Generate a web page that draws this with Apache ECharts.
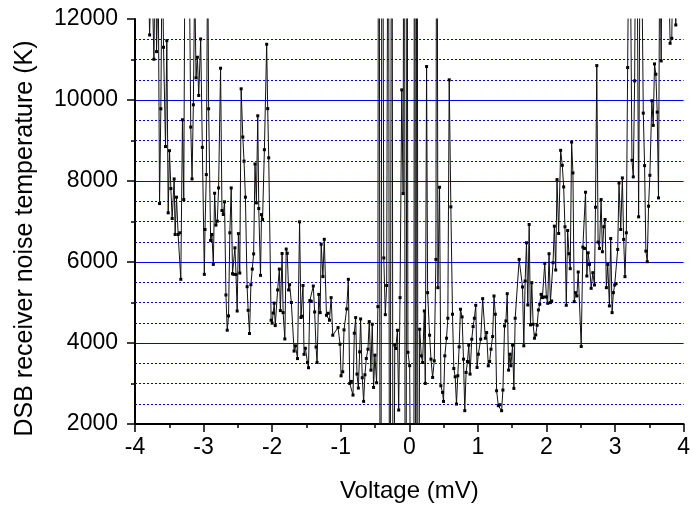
<!DOCTYPE html>
<html>
<head>
<meta charset="utf-8">
<script src="https://cdn.jsdelivr.net/npm/echarts@6/dist/echarts.min.js"></script>
<style>
  html, body { margin: 0; padding: 0; background: #fff; }
  #chart { width: 693px; height: 508px; }
</style>
</head>
<body>
<div id="chart"></div>
<script>
// voltage (mV)
var voltage = [
  -3.810, -3.787, -3.758, -3.724, -3.700, -3.686, -3.661, -3.642, -3.623, -3.603,
  -3.584, -3.555, -3.536, -3.516, -3.497, -3.477, -3.458, -3.429, -3.415, -3.395,
  -3.371, -3.347, -3.332, -3.308, -3.289, -3.269, -3.236, -3.211, -3.187, -3.168,
  -3.149, -3.129, -3.110, -3.090, -3.071, -3.042, -3.018, -2.989, -2.979, -2.960,
  -2.940, -2.926, -2.897, -2.878, -2.858, -2.839, -2.820, -2.800, -2.781, -2.752,
  -2.732, -2.713, -2.694, -2.674, -2.655, -2.636, -2.617, -2.597, -2.578, -2.558,
  -2.543, -2.527, -2.510, -2.492, -2.472, -2.452, -2.428, -2.410, -2.390, -2.365,
  -2.350, -2.330, -2.310, -2.290, -2.270, -2.250, -2.230, -2.210, -2.195, -2.170,
  -2.155, -2.140, -2.113, -2.080, -2.065, -2.050, -2.015, -2.000, -1.985, -1.970,
  -1.955, -1.920, -1.895, -1.880, -1.855, -1.840, -1.815, -1.795, -1.780, -1.760,
  -1.745, -1.720, -1.680, -1.660, -1.630, -1.600, -1.580, -1.565, -1.550, -1.535,
  -1.515, -1.485, -1.470, -1.450, -1.430, -1.400, -1.380, -1.360, -1.345, -1.320,
  -1.300, -1.285, -1.260, -1.240, -1.208, -1.184, -1.164, -1.140, -1.116, -1.039,
  -1.010, -0.995, -0.971, -0.952, -0.913, -0.889, -0.869, -0.845, -0.821, -0.802,
  -0.782, -0.763, -0.743, -0.724, -0.710, -0.686, -0.666, -0.647, -0.627, -0.603,
  -0.584, -0.560, -0.540, -0.521, -0.502, -0.477, -0.458, -0.445, -0.420, -0.395,
  -0.372, -0.350, -0.330, -0.305, -0.285, -0.255, -0.235, -0.212, -0.197, -0.173,
  -0.155, -0.135, -0.110, -0.090, -0.072, -0.056, -0.033, -0.020, 0.005, 0.062,
  0.078, 0.094, 0.112, 0.128, 0.151, 0.175, 0.194, 0.219, 0.233, 0.252,
  0.267, 0.296, 0.316, 0.340, 0.364, 0.388, 0.402, 0.417, 0.441, 0.460,
  0.485, 0.499, 0.518, 0.543, 0.562, 0.582, 0.606, 0.630, 0.649, 0.669,
  0.688, 0.707, 0.727, 0.746, 0.770, 0.790, 0.809, 0.828, 0.848, 0.867,
  0.886, 0.911, 0.930, 0.949, 0.969, 0.988, 1.007, 1.041, 1.070, 1.109,
  1.128, 1.152, 1.172, 1.191, 1.215, 1.235, 1.254, 1.273, 1.298, 1.322,
  1.346, 1.365, 1.389, 1.409, 1.428, 1.448, 1.467, 1.481, 1.506, 1.525,
  1.544, 1.602, 1.651, 1.670, 1.689, 1.709, 1.728, 1.748, 1.767, 1.786,
  1.806, 1.825, 1.844, 1.864, 1.883, 1.902, 1.922, 1.941, 1.960, 1.975,
  1.999, 2.018, 2.038, 2.057, 2.076, 2.096, 2.115, 2.135, 2.154, 2.178,
  2.207, 2.231, 2.251, 2.270, 2.289, 2.309, 2.328, 2.347, 2.367, 2.386,
  2.405, 2.425, 2.444, 2.463, 2.507, 2.531, 2.555, 2.570, 2.589, 2.608,
  2.628, 2.652, 2.676, 2.700, 2.715, 2.734, 2.753, 2.773, 2.797, 2.816,
  2.836, 2.855, 2.874, 2.894, 2.918, 2.937, 2.957, 2.976, 2.995, 3.015,
  3.039, 3.058, 3.083, 3.107, 3.126, 3.145, 3.165, 3.184, 3.205, 3.226,
  3.247, 3.266, 3.286, 3.305, 3.325, 3.344, 3.365, 3.390, 3.412, 3.431,
  3.450, 3.470, 3.489, 3.508, 3.537, 3.557, 3.576, 3.595, 3.615, 3.634,
  3.652, 3.673, 3.690, 3.720, 3.750, 3.780, 3.803, 3.828, 3.845, 3.866,
  3.886, 3.900
];
// DSB receiver noise temperature (K); values past the frame run off the plot
var noiseTemp = [
  13500, 11606, 13500, 11006, 14500, 11195, 13000, 7443, 9783, 14000,
  11302, 8850, 11466, 7214, 8749, 7813, 7074, 8051, 6680, 7600,
  6680, 6721, 5572, 9512, 7542, 15000, 13500, 14000, 9332, 8051,
  9882, 13000, 10547, 11056, 10112, 11507, 8831, 5695, 6803, 8158,
  14000, 9783, 6532, 6680, 5941, 7698, 6910, 7008, 7829, 10785,
  7271, 7173, 7485, 5186, 4316, 4669, 6721, 7829, 5711, 5695,
  6350, 5690, 4790, 6700, 5727, 10276, 9086, 8490, 7600, 5390,
  4808, 4234, 5440, 5825, 6200, 8420, 7460, 9610, 7320, 5670,
  7170, 7050, 8773, 11376, 9787, 8573, 4562, 4490, 4740, 4984,
  4430, 5310, 5825, 4800, 6210, 4750, 4100, 6320, 6215, 5310,
  5440, 5000, 3800, 3930, 3615, 6992, 4630, 4660, 5420, 3720,
  3870, 3520, 3390, 5050, 5030, 5407, 4767, 3900, 3520, 5200,
  4750, 6440, 5640, 6560, 4685, 4734, 4562, 5120, 4192, 4381,
  3970, 3190, 3290, 4324, 4841, 5572, 3002, 3051, 2714, 4242,
  4627, 3232, 2887, 3782, 4594, 3142, 2559, 3215, 3618, 3847,
  4529, 3330, 4463, 2903, 3700, 3018, 4898, 25000, -10000, 22000,
  6100, 4700, 5420, 20000, -8000, 22000, -6000, 3950, 3865, 4315,
  2345, 5120, 10250, 7690, 25000, -15000, 18000, 3770, 3440, -12000,
  28000, -9000, 26000, -7000, 4340, 3683, 3519, 4792, 3002, 10826,
  5243, 4192, 3601, 3150, 3560, 6064, 20000, 5366, 7846, 2944,
  2780, 2558, 3683, 4118, 4611, 10498, 7361, 4710, 3371, 3166,
  2493, 3191, 3905, 4833, 4644, 3601, 2329, 3273, 3543, 3946,
  3232, 4094, 4406, 4611, 4931, 3396, 3724, 4094, 5095, 4118,
  4258, 3437, 3543, 3847, 4159, 5161, 4710, 2821, 2452, 2476,
  2329, 2838, 4422, 4545, 5218, 3330, 3724, 3437, 3946, 2879,
  4611, 6064, 5383, 3930, 5530, 6474, 4939, 6926, 4447, 5489,
  4463, 4118, 4200, 4439, 4816, 4956, 5202, 5120, 5136, 5966,
  5136, 4980, 6204, 4997, 5038, 5982, 6885, 5802, 8035, 6704,
  8757, 8388, 7854, 6869, 4931, 6778, 6204, 5835, 8962, 8199,
  5021, 5243, 5161, 5753, 3913, 6368, 6335, 7723, 5654, 6228,
  5941, 5350, 5736, 5432, 7353, 10850, 6491, 6335, 7542, 6253,
  6869, 7049, 5366, 5941, 4915, 6581, 4750, 5243, 5432, 5465,
  6310, 7952, 6803, 8076, 6557, 5638, 6721, 10801, 15000, 13000,
  8511, 8101, 10473, 16000, 13000, 7115, 14000, 13500, 9676, 8379,
  6269, 6007, 7378, 8141, 9981, 9373, 10891, 10637, 9701, 7583,
  14000, 10965, 15000, 14000, 15000, 13500, 11401, 11524, 14000, 13000,
  11852, 13000
];

var xTicks = [-4, 4, 1];      // min, max, step
var yTicks = [2000, 12000, 2000];
var minorStep = 500;

var font = 'Liberation Sans, Arial, sans-serif';
var blue = '#0000ff';

var points = voltage.map(function (v, i) { return [v, noiseTemp[i]]; });

// dotted levels every 500 K, leaving out the solid 2000 K lines and the frame
var minorLevels = [];
for (var y = yTicks[0] + minorStep; y < yTicks[1]; y += minorStep) {
  if (y % yTicks[2] !== 0) minorLevels.push({ yAxis: y });
}

var chart = echarts.init(document.getElementById('chart'));
chart.setOption({
  animation: false,
  backgroundColor: '#fff',
  grid: { left: 135, right: 7, top: 19, bottom: 83 },
  xAxis: {
    type: 'value',
    min: xTicks[0],
    max: xTicks[1],
    interval: xTicks[2],
    name: 'Voltage (mV)',
    nameLocation: 'middle',
    nameGap: 55,
    nameTextStyle: { fontFamily: font, fontSize: 24, color: '#000' },
    axisLine: { onZero: false, lineStyle: { color: '#000', width: 2 } },
    axisTick: { length: 8, lineStyle: { color: '#000', width: 1.5 } },
    minorTick: { show: true, splitNumber: 2, length: 4, lineStyle: { color: '#000', width: 1.5 } },
    axisLabel: { margin: 12, fontFamily: font, fontSize: 23, color: '#000' },
    splitLine: { show: false }
  },
  yAxis: {
    type: 'value',
    min: yTicks[0],
    max: yTicks[1],
    interval: yTicks[2],
    name: 'DSB receiver noise temperature (K)',
    nameLocation: 'middle',
    nameGap: 97,
    nameTextStyle: { fontFamily: font, fontSize: 25, color: '#000', padding: [0, 34, 0, 0] },
    axisLine: { onZero: false, lineStyle: { color: '#000', width: 2 } },
    axisTick: { length: 8, lineStyle: { color: '#000', width: 1.5 } },
    minorTick: { show: true, splitNumber: 2, length: 4, lineStyle: { color: '#000', width: 1.5 } },
    axisLabel: {
      margin: 17, fontFamily: font, fontSize: 23, color: '#000',
      formatter: function (v) { return String(v); }
    },
    splitLine: {
      show: true, showMinLine: false, showMaxLine: false,
      lineStyle: { color: blue, width: 1, type: 'solid' }
    }
  },
  series: [{
    // minor grid only
    type: 'line',
    data: [],
    silent: true,
    z: 1,
    markLine: {
      silent: true,
      symbol: 'none',
      label: { show: false },
      lineStyle: { color: blue, width: 1, type: [2, 2] },
      emphasis: { disabled: true },
      data: minorLevels
    }
  }, {
    type: 'line',
    data: points,
    clip: true,
    symbol: 'rect',
    symbolSize: 3,
    showSymbol: true,
    itemStyle: { color: '#000' },
    lineStyle: { color: '#111', width: 1 },
    z: 5
  }]
});
</script>
</body>
</html>
